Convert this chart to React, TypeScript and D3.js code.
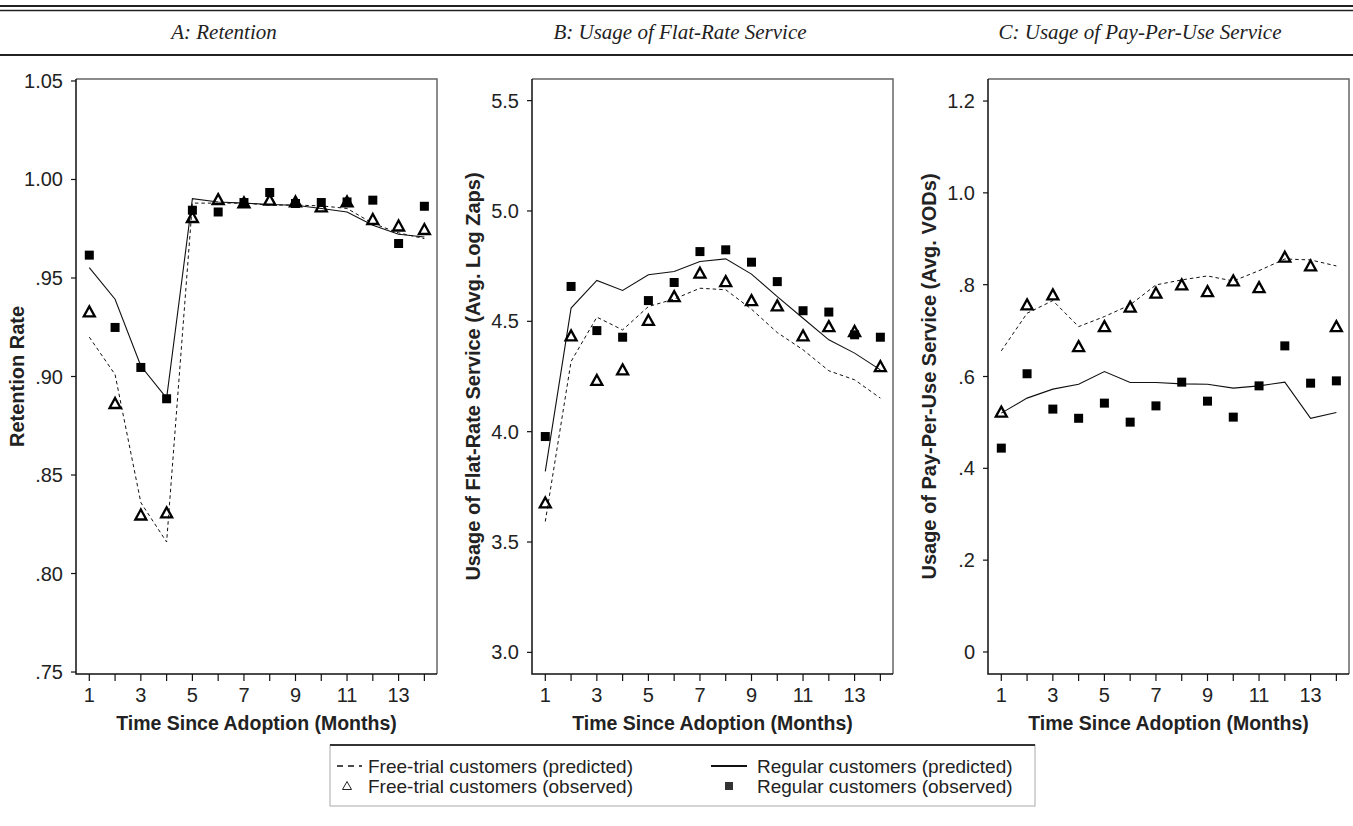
import React from 'react';
import * as d3 from 'd3';

// months on the x axis, and the ones that get a label
const months = [1, 2, 3, 4, 5, 6, 7, 8, 9, 10, 11, 12, 13, 14];
const monthLabels = [1, 3, 5, 7, 9, 11, 13];

// A: Retention
const retentionTicks = [1.05, 1.0, 0.95, 0.9, 0.85, 0.8, 0.75];
const retentionTickLabels = ['1.05', '1.00', '.95', '.90', '.85', '.80', '.75'];
const retentionFreePred = [0.920, 0.901, 0.836, 0.816, 0.988, 0.988, 0.988, 0.987, 0.987, 0.9866, 0.9853, 0.9777, 0.9729, 0.970];
const retentionRegPred = [0.9553, 0.9392, 0.9053, 0.889, 0.9903, 0.9886, 0.988, 0.9873, 0.9869, 0.9853, 0.9835, 0.9768, 0.9722, 0.9708];
const retentionFreeObs = [0.9328, 0.8863, 0.8297, 0.8308, 0.9807, 0.9898, 0.9881, 0.9895, 0.9886, 0.9861, 0.9886, 0.9797, 0.9764, 0.9746];
const retentionRegObs = [0.9616, 0.9249, 0.9046, 0.8887, 0.9844, 0.9835, 0.9883, 0.9934, 0.9878, 0.9883, 0.9886, 0.9895, 0.9675, 0.9864];

// B: Flat-rate usage
const flatTicks = [5.5, 5.0, 4.5, 4.0, 3.5, 3.0];
const flatTickLabels = ['5.5', '5.0', '4.5', '4.0', '3.5', '3.0'];
const flatFreePred = [3.593, 4.318, 4.519, 4.461, 4.567, 4.601, 4.65, 4.643, 4.555, 4.449, 4.371, 4.276, 4.235, 4.152];
const flatRegPred = [3.82, 4.56, 4.685, 4.64, 4.711, 4.726, 4.771, 4.783, 4.714, 4.612, 4.514, 4.416, 4.356, 4.28];
const flatFreeObs = [3.677, 4.434, 4.232, 4.28, 4.504, 4.612, 4.718, 4.68, 4.594, 4.57, 4.434, 4.476, 4.454, 4.295];
const flatRegObs = [3.978, 4.658, 4.458, 4.428, 4.594, 4.676, 4.816, 4.824, 4.768, 4.68, 4.548, 4.542, 4.439, 4.428];

// C: Pay-per-use usage
const vodTicks = [1.2, 1.0, 0.8, 0.6, 0.4, 0.2, 0];
const vodTickLabels = ['1.2', '1.0', '.8', '.6', '.4', '.2', '0'];
const vodFreePred = [0.6558, 0.7378, 0.7653, 0.7087, 0.7305, 0.756, 0.7995, 0.8104, 0.819, 0.808, 0.8306, 0.856, 0.8539, 0.8408];
const vodRegPred = [0.5202, 0.5529, 0.5725, 0.5833, 0.6108, 0.5868, 0.5868, 0.584, 0.583, 0.5746, 0.5796, 0.5877, 0.509, 0.5215];
const vodFreeObs = [0.5224, 0.756, 0.7777, 0.665, 0.7087, 0.751, 0.7814, 0.7995, 0.7849, 0.8082, 0.7936, 0.8598, 0.8408, 0.7087];
const vodRegObs = [0.444, 0.606, 0.529, 0.509, 0.542, 0.5006, 0.536, 0.5877, 0.5463, 0.5115, 0.5796, 0.6667, 0.5855, 0.5905];

const headers = ['A: Retention', 'B: Usage of Flat-Rate Service', 'C: Usage of Pay-Per-Use Service'];
const yTitles = ['Retention Rate', 'Usage of Flat-Rate Service (Avg. Log Zaps)', 'Usage of Pay-Per-Use Service (Avg. VODs)'];
const xTitle = 'Time Since Adoption (Months)';
const legendLabels = [
  'Free-trial customers (predicted)',
  'Regular customers (predicted)',
  'Free-trial customers (observed)',
  'Regular customers (observed)',
];

const sans = '"Liberation Sans", Arial, Helvetica, sans-serif';
const serif = '"Liberation Serif", "Times New Roman", serif';

const W = 1353;
const H = 826;
const top = 79;
const bottom = 674;
const boxW = 361;

const panels = [
  { left: 76, headerX: 224, yDomain: [0.749, 1.051], ticks: retentionTicks, labels: retentionTickLabels, freePred: retentionFreePred, regPred: retentionRegPred, freeObs: retentionFreeObs, regObs: retentionRegObs },
  { left: 532, headerX: 680, yDomain: [2.902, 5.598], ticks: flatTicks, labels: flatTickLabels, freePred: flatFreePred, regPred: flatRegPred, freeObs: flatFreeObs, regObs: flatRegObs },
  { left: 988, headerX: 1140, yDomain: [-0.048, 1.248], ticks: vodTicks, labels: vodTickLabels, freePred: vodFreePred, regPred: vodRegPred, freeObs: vodFreeObs, regObs: vodRegObs },
];

const triangle = 'M0,-5.5L5.5,4.5L-5.5,4.5Z';

function Panel({ p, i }) {
  const x = d3.scaleLinear().domain([0.484, 14.49]).range([p.left, p.left + boxW]);
  const y = d3.scaleLinear().domain(p.yDomain).range([bottom, top]);
  const line = (vals) =>
    d3.line<number>()
      .x((_, j) => x(months[j]))
      .y((d) => y(d))(vals);

  return (
    <g>
      {/* frame */}
      <path d={`M${p.left} ${top} H${p.left + boxW} V${bottom}`} fill="none" stroke="#666" strokeWidth={1.5} />
      <path d={`M${p.left} ${top} V${bottom} H${p.left + boxW}`} fill="none" stroke="#111" strokeWidth={1.5} />

      {p.ticks.map((t, k) => (
        <g key={t} transform={`translate(${p.left} ${y(t)})`}>
          <line x1={-5} x2={0} stroke="#111" strokeWidth={1.2} />
          <text x={-13} textAnchor="end" dominantBaseline="central" fontSize={20} fill="#222" fontFamily={sans}>
            {p.labels[k]}
          </text>
        </g>
      ))}

      {months.map((m) => (
        <line key={m} x1={x(m)} x2={x(m)} y1={bottom} y2={bottom + 7} stroke="#111" strokeWidth={1.2} />
      ))}
      {monthLabels.map((m) => (
        <text key={m} x={x(m)} y={695} textAnchor="middle" dominantBaseline="central" fontSize={20} fill="#222" fontFamily={sans}>
          {m}
        </text>
      ))}

      <text x={p.left + boxW / 2} y={723} textAnchor="middle" dominantBaseline="central" fontSize={19.5} fontWeight="bold" fill="#222" fontFamily={sans}>
        {xTitle}
      </text>
      <text
        transform={`translate(${p.left - 59} ${(top + bottom) / 2}) rotate(-90)`}
        textAnchor="middle"
        dominantBaseline="central"
        fontSize={20}
        fontWeight="bold"
        fill="#222"
        fontFamily={sans}
      >
        {yTitles[i]}
      </text>

      <path d={line(p.freePred)} fill="none" stroke="#111" strokeWidth={1} strokeDasharray="3.5 3" />
      <path d={line(p.regPred)} fill="none" stroke="#111" strokeWidth={1.1} />

      {p.regObs.map((v, j) => (
        <rect key={'s' + j} x={x(months[j]) - 4.5} y={y(v) - 4.5} width={9} height={9} fill="#000" />
      ))}
      {p.freeObs.map((v, j) => (
        <path key={'t' + j} d={triangle} transform={`translate(${x(months[j])} ${y(v)})`} fill="none" stroke="#000" strokeWidth={2.3} />
      ))}
    </g>
  );
}

function Legend() {
  const row1 = 766;
  const row2 = 786;
  return (
    <g fontFamily={sans} fontSize={19} fill="#222">
      <rect x={330} y={745} width={705} height={61} fill="none" stroke="#aaa" strokeWidth={1} />
      <line x1={330} x2={1035} y1={745} y2={745} stroke="#333" strokeWidth={2} />
      <line x1={337} x2={362} y1={row1} y2={row1} stroke="#111" strokeWidth={1.5} strokeDasharray="6 5" />
      <text x={368} y={row1} dominantBaseline="central">{legendLabels[0]}</text>
      <line x1={711} x2={747} y1={row1} y2={row1} stroke="#111" strokeWidth={2} />
      <text x={757} y={row1} dominantBaseline="central">{legendLabels[1]}</text>
      <path d="M0,-4.5L4.5,3.5L-4.5,3.5Z" transform={`translate(347 ${row2})`} fill="none" stroke="#222" strokeWidth={1} />
      <text x={368} y={row2} dominantBaseline="central">{legendLabels[2]}</text>
      <rect x={725} y={row2 - 4} width={8} height={8} fill="#333" />
      <text x={757} y={row2} dominantBaseline="central">{legendLabels[3]}</text>
    </g>
  );
}

export default function App() {
  return (
    <svg width={W} height={H} style={{ position: 'absolute', left: 0, top: 0, background: '#fff' }}>
      <rect width={W} height={H} fill="#fff" />
      <line x1={0} x2={W} y1={6} y2={6} stroke="#222" strokeWidth={2} />
      <line x1={0} x2={W} y1={10.5} y2={10.5} stroke="#222" strokeWidth={1.3} />
      <line x1={0} x2={W} y1={55} y2={55} stroke="#222" strokeWidth={2} />
      {panels.map((p, i) => (
        <text key={'h' + i} x={p.headerX} y={39} textAnchor="middle" fontFamily={serif} fontStyle="italic" fontSize={21} fill="#222">
          {headers[i]}
        </text>
      ))}
      {panels.map((p, i) => (
        <Panel key={i} p={p} i={i} />
      ))}
      <Legend />
    </svg>
  );
}
